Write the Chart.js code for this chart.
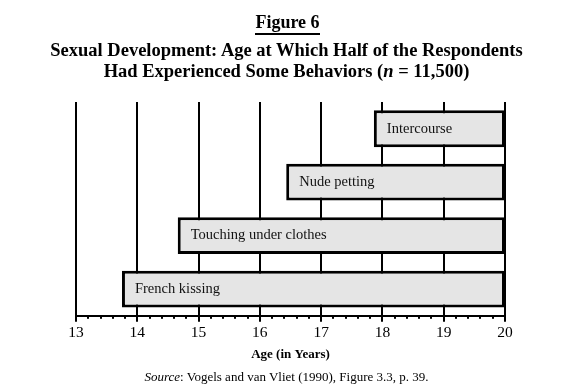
<!DOCTYPE html>
<html>
<head>
<meta charset="utf-8">
<script src="https://cdn.jsdelivr.net/npm/chart.js@4"></script>
<style>
  html, body { margin: 0; padding: 0; background: #fff; }
  #wrap { position: relative; width: 573px; height: 392px; font-family: 'Liberation Serif', serif; color: #000; }
  #wrap canvas { position: absolute; left: 0; top: 0; }
  .txt { position: absolute; left: 0; width: 573px; text-align: center; white-space: nowrap; }
  #fig { top: 12px; left: 1px; font-size: 18px; font-weight: bold; }
  #fig span { border-bottom: 2px solid #000; padding-bottom: 1px; }
  #title { top: 40px; font-size: 18.5px; font-weight: bold; line-height: 21px; }
  #source { top: 369px; font-size: 13px; }
</style>
</head>
<body>
<div id="wrap">
  <canvas id="chart" width="573" height="392"></canvas>
  <div class="txt" id="fig"><span>Figure 6</span></div>
  <div class="txt" id="title">Sexual Development: Age at Which Half of the Respondents<br>Had Experienced Some Behaviors (<i>n</i> = 11,500)</div>
  <div class="txt" id="source"><i>Source</i>: Vogels and van Vliet (1990), Figure 3.3, p. 39.</div>
</div>
<script>
// 行動カテゴリ（上から順）
const behaviors = ['Intercourse', 'Nude petting', 'Touching under clothes', 'French kissing'];
// 半数が経験した年齢
const startAges = [17.86, 16.43, 14.66, 13.75];
const endAge = 20;
// x 軸
const ageMin = 13;
const ageMax = 20;
const minorStep = 0.2;

const FONT = "'Liberation Serif', serif";

// バー内ラベル
const barLabels = {
  id: 'barLabels',
  afterDatasetsDraw(chart) {
    const { ctx } = chart;
    const meta = chart.getDatasetMeta(0);
    ctx.save();
    ctx.font = `14.5px ${FONT}`;
    ctx.fillStyle = '#111';
    ctx.textBaseline = 'middle';
    meta.data.forEach((bar, i) => {
      const left = Math.min(bar.x, bar.base);
      ctx.fillText(behaviors[i], left + 13, bar.y);
    });
    ctx.restore();
  },
};

// 小目盛り（0.2 年刻み）
const minorTicks = {
  id: 'minorTicks',
  afterDraw(chart) {
    const { ctx } = chart;
    const x = chart.scales.x;
    const y0 = chart.chartArea.bottom;
    const n = Math.round((ageMax - ageMin) / minorStep);
    const per = Math.round(1 / minorStep);
    ctx.save();
    ctx.fillStyle = '#000';
    for (let i = 1; i < n; i++) {
      if (i % per === 0) continue;
      const px = x.getPixelForValue(ageMin + i * minorStep);
      ctx.fillRect(Math.round(px) - 1, y0 + 1, 2, 2);
    }
    ctx.restore();
  },
};

new Chart(document.getElementById('chart'), {
  type: 'bar',
  data: {
    labels: behaviors,
    datasets: [
      {
        data: startAges.map((s) => [s, endAge]),
        backgroundColor: '#e5e5e5',
        borderColor: '#000',
        borderWidth: 3,
        borderSkipped: false,
        categoryPercentage: 1,
        barPercentage: 0.69,
      },
    ],
  },
  options: {
    indexAxis: 'y',
    responsive: false,
    animation: false,
    layout: { padding: { left: 76, right: 68, top: 102, bottom: 30 } },
    plugins: {
      legend: { display: false },
      tooltip: { enabled: false },
    },
    scales: {
      y: { display: false },
      x: {
        type: 'linear',
        min: ageMin,
        max: ageMax,
        ticks: {
          stepSize: 1,
          color: '#000',
          padding: 2,
          font: { family: FONT, size: 15.5 },
        },
        grid: {
          color: '#000',
          lineWidth: 2,
          tickLength: 6,
        },
        border: { color: '#000', width: 2 },
        title: {
          display: true,
          text: 'Age (in Years)',
          color: '#000',
          font: { family: FONT, size: 13, weight: 'bold' },
          padding: { top: 2, bottom: 0 },
        },
      },
    },
  },
  plugins: [barLabels, minorTicks],
});
</script>
</body>
</html>
